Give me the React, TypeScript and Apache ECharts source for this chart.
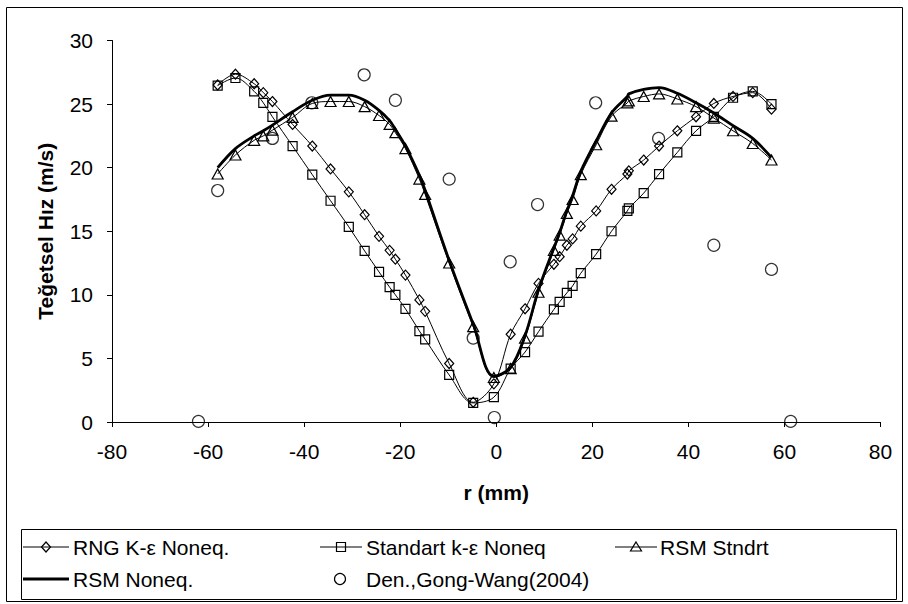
import React, { useEffect, useRef } from "react";
import * as echarts from "echarts";

// r (mm) positions of the computed profiles
const radialPositions = [
  -58.0, -54.3, -50.4, -48.5, -46.6, -42.4, -38.3, -34.5, -30.7, -27.4, -24.4, -22.2, -21.0,
  -18.9, -16.0, -14.8, -9.8, -4.8, -0.5, 3.0, 6.0, 8.8, 12.0, 13.2, 14.7, 15.9, 17.6, 20.8,
  24.0, 27.3, 27.6, 30.7, 33.9, 37.7, 41.6, 45.3, 49.3, 53.4, 57.3,
];

const rngKeNoneq = [
  26.5, 27.35, 26.6, 25.9, 25.2, 23.4, 21.7, 19.9, 18.1, 16.3, 14.6, 13.5, 12.8,
  11.55, 9.6, 8.7, 4.6, 1.55, 3.0, 6.9, 8.9, 10.9, 12.4, 13.0, 13.9, 14.4, 15.4, 16.6,
  18.3, 19.5, 19.75, 20.6, 21.7, 22.9, 24.0, 25.05, 25.6, 25.9, 24.6,
];

const standartKeNoneq = [
  26.45, 27.05, 26.0, 25.1, 24.0, 21.7, 19.45, 17.4, 15.35, 13.45, 11.8, 10.6, 10.0,
  8.9, 7.15, 6.5, 3.7, 1.5, 1.95, 4.2, 5.5, 7.1, 8.85, 9.45, 10.15, 10.7, 11.7, 13.2,
  15.0, 16.6, 16.8, 18.0, 19.5, 21.2, 22.9, 24.0, 25.5, 26.0, 25.0,
];

const rsmStndrt = [
  19.5, 21.0, 22.15, 22.5, 22.95, 23.95, 25.05, 25.2, 25.2, 24.8, 24.1, 23.4, 22.75,
  21.5, 19.1, 17.9, 12.5, 7.5, 3.5, 4.2, 6.6, 10.2, 13.5, 14.7, 16.4, 17.5, 19.45, 21.8,
  24.05, 25.1, 25.25, 25.6, 25.8, 25.4, 24.8, 23.9, 22.9, 21.9, 20.6,
];

const rsmNoneq = [
  20.0, 21.5, 22.5, 22.9, 23.35, 24.4, 25.3, 25.7, 25.7, 25.3, 24.5, 23.7, 23.0,
  21.7, 19.4, 18.2, 12.7, 7.7, 3.6, 4.3, 6.8, 10.4, 13.7, 14.9, 16.6, 17.8, 19.7, 22.1,
  24.3, 25.6, 25.8, 26.15, 26.3, 25.85, 25.1, 24.3, 23.3, 22.3, 20.8,
];

// Den., Gong-Wang (2004) measurements
const denGongWangR = [-62.0, -58.0, -46.6, -38.4, -27.5, -21.0, -9.8, -4.8, -0.4, 2.9, 8.6, 20.7, 33.8, 45.3, 57.3, 61.3];
const denGongWangV = [0.05, 18.2, 22.3, 25.1, 27.3, 25.3, 19.1, 6.6, 0.35, 12.6, 17.1, 25.1, 22.3, 13.9, 12.0, 0.05];

const seriesNames = [
  "RNG K-ε Noneq.",
  "Standart k-ε Noneq",
  "RSM Stndrt",
  "RSM Noneq.",
  "Den.,Gong-Wang(2004)",
];

const xAxisRange = { min: -80, max: 80, interval: 20 };
const yAxisRange = { min: 0, max: 30, interval: 5 };

const FONT = '"Liberation Sans", Arial, Helvetica, sans-serif';

function pairs(xs: number[], ys: number[]) {
  return xs.map((x, i) => [x, ys[i]]);
}

const markerStyle = {
  color: "rgba(255,255,255,0)",
  borderColor: "#000",
  borderWidth: 1.2,
};

export default function App() {
  const ref = useRef<HTMLDivElement>(null);

  useEffect(() => {
    if (!ref.current) return;
    const chart = echarts.init(ref.current, undefined, { renderer: "svg" });

    const lineSeries = (name: string, ys: number[], symbol: string, size: any) => ({
      name,
      type: "line",
      data: pairs(radialPositions, ys),
      smooth: 0.35,
      symbol,
      symbolSize: size,
      showSymbol: true,
      itemStyle: markerStyle,
      lineStyle: { color: "#000", width: 1 },
      emphasis: { disabled: true },
    });

    const legendText = (text: string, x: number, y: number) => ({
      type: "text",
      silent: true,
      style: { text, x, y, fill: "#000", fontSize: 21, fontFamily: FONT, verticalAlign: "middle", align: "left" },
    });
    const legendLine = (x1: number, x2: number, y: number, w: number) => ({
      type: "line",
      silent: true,
      shape: { x1, y1: y, x2, y2: y },
      style: { stroke: "#000", lineWidth: w },
    });
    const mk = { fill: "none", stroke: "#000", lineWidth: 1.2 };

    const row1 = 547;
    const row2 = 579;

    chart.setOption({
      animation: false,
      backgroundColor: "#fff",
      textStyle: { fontFamily: FONT },
      grid: { left: 112, right: 27.5, top: 40.5, bottom: 604 - 422, containLabel: false },
      xAxis: {
        type: "value",
        ...xAxisRange,
        name: "r (mm)",
        nameLocation: "middle",
        nameGap: 60,
        nameTextStyle: { fontSize: 21, fontWeight: "bold", color: "#000", fontFamily: FONT },
        axisLine: { onZero: false, lineStyle: { color: "#000", width: 1 } },
        axisTick: { show: true, inside: false, length: 5, lineStyle: { color: "#000" } },
        axisLabel: { color: "#000", fontSize: 21, margin: 19, fontFamily: FONT },
        splitLine: { show: false },
      },
      yAxis: {
        type: "value",
        ...yAxisRange,
        name: "Teğetsel Hız (m/s)",
        nameLocation: "middle",
        nameRotate: 90,
        nameGap: 56,
        nameTextStyle: { fontSize: 21, fontWeight: "bold", color: "#000", fontFamily: FONT },
        axisLine: { show: true, onZero: false, lineStyle: { color: "#000", width: 1 } },
        axisTick: { show: true, inside: false, length: 5, lineStyle: { color: "#000" } },
        axisLabel: { color: "#000", fontSize: 21, margin: 19, fontFamily: FONT },
        splitLine: { show: false },
      },
      series: [
        lineSeries(seriesNames[0], rngKeNoneq, "diamond", [9, 10]),
        lineSeries(seriesNames[1], standartKeNoneq, "rect", [9, 9]),
        lineSeries(seriesNames[2], rsmStndrt, "triangle", [11, 10]),
        {
          name: seriesNames[3],
          type: "line",
          data: pairs(radialPositions, rsmNoneq),
          smooth: 0.35,
          symbol: "none",
          lineStyle: { color: "#000", width: 2.8 },
          emphasis: { disabled: true },
        },
        {
          name: seriesNames[4],
          type: "scatter",
          data: pairs(denGongWangR, denGongWangV),
          symbol: "circle",
          symbolSize: 12,
          itemStyle: markerStyle,
          emphasis: { disabled: true },
        },
      ],
      graphic: [
        {
          type: "rect",
          silent: true,
          z: -10,
          shape: { x: 6.5, y: 7.5, width: 896, height: 594 },
          style: { fill: "none", stroke: "#000", lineWidth: 1 },
        },
        {
          type: "rect",
          silent: true,
          shape: { x: 21.5, y: 529.5, width: 875, height: 70 },
          style: { fill: "#fff", stroke: "#000", lineWidth: 1 },
        },
        legendLine(23, 69, row1, 1),
        { type: "polygon", silent: true, shape: { points: [[46, row1 - 5], [50.5, row1], [46, row1 + 5], [41.5, row1]] }, style: mk },
        legendText(seriesNames[0], 73, row1),
        legendLine(320, 362, row1, 1),
        { type: "rect", silent: true, shape: { x: 336.5, y: row1 - 4.5, width: 9, height: 9 }, style: mk },
        legendText(seriesNames[1], 366, row1),
        legendLine(615, 657, row1, 1),
        { type: "polygon", silent: true, shape: { points: [[636, row1 - 5], [641.5, row1 + 4], [630.5, row1 + 4]] }, style: mk },
        legendText(seriesNames[2], 660, row1),
        legendLine(23, 69, row2, 2.8),
        legendText(seriesNames[3], 73, row2),
        { type: "circle", silent: true, shape: { cx: 340, cy: row2, r: 5.5 }, style: mk },
        legendText(seriesNames[4], 366, row2),
      ],
    });

    return () => chart.dispose();
  }, []);

  return <div ref={ref} style={{ position: "fixed", left: 0, top: 0, width: 908, height: 604 }} />;
}
